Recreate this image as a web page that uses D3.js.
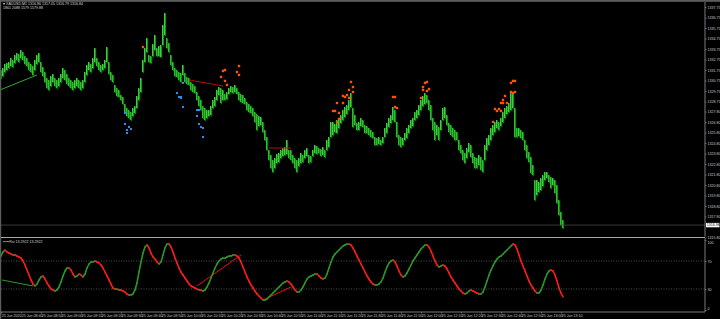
<!DOCTYPE html>
<html><head><meta charset="utf-8">
<script src="https://cdn.jsdelivr.net/npm/d3@7"></script>
<style>html,body{margin:0;padding:0;background:#000;overflow:hidden}</style>
</head><body>
<svg id="c" width="720" height="319"></svg>
<script>
// ---- data (M1 bars, high / low) ----
const high = [
1331.75,1331.94,1332.33,1332.42,1332.52,1332.90,1332.71,1333.18,1333.37,1333.28,
1333.66,1333.47,1333.09,1332.90,1332.52,1332.33,1332.13,1332.71,1333.18,1333.37,
1332.52,1332.04,1331.56,1330.99,1330.80,1331.18,1331.37,1330.99,1330.80,1330.99,
1331.37,1331.94,1331.75,1331.37,1330.99,1330.80,1330.61,1330.80,1330.99,1330.80,
1330.61,1330.80,1331.56,1332.23,1332.52,1332.33,1332.90,1333.85,1332.90,1332.52,
1332.23,1332.33,1332.71,1333.94,1332.52,1331.56,1331.28,1330.33,1330.04,1329.85,
1329.37,1329.18,1328.52,1328.13,1327.94,1327.75,1328.13,1328.32,1329.28,1330.04,
1330.99,1332.71,1333.85,1334.80,1333.18,1333.09,1334.23,1335.09,1333.85,1334.04,
1334.13,1336.04,1337.18,1334.80,1334.32,1333.18,1332.52,1331.94,1331.75,1331.56,
1331.47,1332.23,1331.47,1331.09,1330.99,1330.61,1330.42,1330.23,1329.66,1329.28,
1328.90,1328.32,1328.13,1327.94,1327.94,1328.32,1328.90,1329.18,1329.85,1330.13,
1330.04,1329.85,1329.47,1329.66,1330.04,1330.23,1330.13,1330.33,1330.04,1329.66,
1329.47,1329.37,1329.09,1328.71,1328.52,1328.32,1328.13,1327.75,1327.56,1327.37,
1327.28,1326.80,1326.04,1325.37,1324.13,1323.66,1323.18,1323.37,1323.75,1323.85,
1324.13,1324.32,1324.42,1325.09,1324.13,1324.13,1323.66,1323.37,1323.18,1323.37,
1323.85,1323.66,1324.13,1324.32,1323.66,1323.56,1324.13,1324.61,1324.52,1324.32,
1324.23,1324.42,1324.13,1325.09,1325.37,1326.80,1326.80,1326.61,1326.99,1327.18,
1327.47,1327.94,1328.23,1328.42,1328.90,1329.56,1328.13,1327.47,1326.70,1326.80,
1327.18,1326.99,1326.51,1326.42,1326.23,1326.04,1325.85,1325.37,1325.28,1325.37,
1325.09,1325.37,1326.23,1326.70,1327.18,1327.47,1328.23,1327.94,1326.80,1325.56,
1325.37,1325.28,1325.75,1326.23,1326.51,1326.99,1327.18,1327.75,1327.94,1328.42,
1328.90,1329.28,1329.56,1329.37,1328.90,1328.42,1327.18,1326.80,1326.51,1326.32,
1326.99,1328.13,1328.23,1327.47,1326.70,1326.51,1326.23,1326.04,1325.85,1325.09,
1324.61,1324.13,1323.85,1324.32,1324.80,1324.61,1323.85,1323.47,1323.37,1323.66,
1323.47,1323.18,1324.61,1325.28,1325.56,1326.23,1326.51,1326.80,1326.99,1326.80,
1327.18,1327.75,1328.13,1328.32,1328.61,1329.56,1329.56,1328.13,1326.23,1326.23,
1326.04,1325.85,1325.09,1324.61,1323.94,1323.47,1322.71,1321.28,1321.28,1321.09,
1321.47,1321.75,1322.04,1322.04,1321.75,1321.56,1321.47,1321.28,1320.80,1319.37,
1318.23,1317.47];
const low = [
1330.99,1331.18,1331.56,1331.75,1331.94,1332.13,1332.04,1332.42,1332.71,1332.52,
1332.90,1332.71,1332.33,1332.13,1331.75,1331.56,1331.28,1331.75,1332.33,1332.52,
1331.56,1331.18,1330.61,1330.04,1329.85,1330.23,1330.61,1330.23,1330.04,1330.23,
1330.61,1330.99,1330.80,1330.42,1330.23,1330.04,1329.85,1330.04,1330.23,1330.04,
1329.85,1330.04,1330.61,1331.28,1331.75,1331.56,1331.94,1332.52,1332.13,1331.75,
1331.56,1331.75,1331.94,1332.52,1331.37,1330.80,1330.61,1329.66,1329.28,1329.18,
1328.90,1328.52,1327.75,1327.37,1327.18,1326.99,1327.37,1327.66,1328.13,1328.90,
1329.66,1331.56,1332.52,1333.47,1332.52,1332.42,1333.09,1333.66,1333.09,1333.09,
1333.00,1334.13,1335.09,1333.85,1333.47,1332.23,1331.75,1331.18,1331.09,1330.80,
1330.61,1331.28,1330.61,1330.42,1330.33,1329.85,1329.66,1329.56,1328.90,1328.32,
1327.94,1327.18,1326.99,1327.18,1327.37,1327.47,1328.13,1328.32,1328.90,1329.37,
1328.61,1328.90,1328.90,1328.99,1329.47,1329.66,1329.56,1329.66,1329.47,1328.90,
1328.71,1328.61,1328.52,1327.94,1327.75,1327.66,1327.37,1326.80,1326.04,1326.42,
1326.51,1325.85,1325.09,1324.13,1323.18,1322.42,1322.04,1322.42,1322.90,1322.99,
1323.37,1323.56,1323.66,1323.75,1323.37,1323.18,1322.90,1322.42,1322.04,1322.61,
1322.90,1322.99,1323.37,1323.56,1322.90,1322.99,1323.56,1323.85,1323.75,1323.85,
1323.56,1323.66,1323.47,1324.13,1324.42,1325.37,1325.56,1325.85,1325.75,1326.23,
1326.70,1326.99,1327.28,1327.56,1327.94,1328.23,1326.32,1326.51,1326.04,1326.04,
1326.42,1326.32,1325.75,1325.75,1325.56,1325.37,1325.28,1324.61,1324.61,1324.71,
1324.61,1324.80,1325.37,1325.75,1326.32,1326.70,1326.99,1326.80,1325.37,1324.61,
1324.42,1324.61,1325.09,1325.28,1325.75,1326.23,1326.42,1326.99,1327.18,1327.47,
1327.94,1328.32,1328.52,1328.61,1327.94,1326.99,1326.04,1325.09,1325.56,1325.09,
1326.04,1326.99,1327.18,1326.51,1325.85,1325.56,1325.37,1325.09,1325.09,1324.13,
1323.85,1323.18,1322.90,1323.37,1323.94,1323.47,1322.90,1322.42,1322.42,1322.71,
1322.23,1322.04,1323.18,1324.13,1324.61,1325.09,1325.56,1325.85,1326.23,1326.04,
1326.42,1326.80,1327.18,1327.56,1327.75,1327.94,1328.13,1325.37,1325.37,1325.47,
1325.28,1325.09,1324.13,1323.37,1322.99,1321.94,1321.75,1319.37,1319.85,1320.13,
1320.33,1320.70,1321.28,1321.47,1321.09,1320.51,1320.80,1320.04,1319.09,1317.94,
1316.99,1316.71];
// ---- oscillator values (0..100) ----
const osc = [
77.1,82.9,85.7,82.9,81.4,80.0,78.6,78.6,77.1,75.7,
74.3,70.0,64.3,57.1,50.0,42.9,37.1,34.3,37.1,42.9,
47.1,48.6,44.3,38.6,34.3,30.0,28.6,27.1,28.6,32.9,
40.0,48.6,55.7,60.0,60.0,57.1,51.4,47.1,48.6,51.4,
50.0,47.1,51.4,60.0,65.7,68.6,68.6,70.0,68.6,67.1,
64.3,60.0,54.3,48.6,42.9,37.1,31.4,30.0,30.0,28.6,
28.6,27.1,25.7,22.9,21.4,21.4,22.9,28.6,38.6,54.3,
68.6,81.4,90.0,92.9,88.6,81.4,75.7,72.9,68.6,65.7,
68.6,78.6,88.6,94.3,94.3,90.0,82.9,74.3,67.1,60.0,
54.3,50.0,45.7,41.4,37.1,34.3,32.9,31.4,30.0,28.6,
28.6,27.1,28.6,32.9,38.6,45.7,52.9,60.0,65.7,70.0,
72.9,74.3,74.3,75.7,77.1,77.1,78.6,78.6,77.1,74.3,
68.6,61.4,54.3,47.1,41.4,35.7,31.4,27.1,22.9,20.0,
17.1,14.3,14.3,15.7,18.6,21.4,24.3,27.1,30.0,32.9,
35.7,38.6,40.0,41.4,40.0,37.1,32.9,28.6,25.7,25.7,
28.6,32.9,38.6,44.3,47.1,48.6,50.0,51.4,51.4,48.6,
45.7,44.3,45.7,51.4,60.0,68.6,75.7,80.0,82.9,85.7,
88.6,91.4,92.9,94.3,94.3,92.9,88.6,82.9,77.1,71.4,
65.7,60.0,54.3,48.6,44.3,40.0,37.1,35.7,35.7,37.1,
40.0,45.7,54.3,61.4,67.1,70.0,71.4,68.6,62.9,55.7,
50.0,47.1,48.6,52.9,58.6,64.3,70.0,74.3,78.6,82.9,
87.1,90.0,92.9,92.9,90.0,84.3,77.1,70.0,64.3,61.4,
62.9,64.3,62.9,58.6,52.9,47.1,42.9,38.6,34.3,30.0,
27.1,24.3,22.9,24.3,27.1,28.6,27.1,25.7,24.3,22.9,
22.9,25.7,32.9,41.4,50.0,57.1,62.9,68.6,72.9,75.7,
77.1,80.0,82.9,85.7,88.6,91.4,94.3,92.9,87.1,78.6,
70.0,62.9,55.7,48.6,41.4,35.7,31.4,27.1,24.3,24.3,
28.6,35.7,44.3,51.4,55.7,57.1,55.7,50.0,41.4,31.4,
24.3,18.6];
// signal dots [bar index, price]
const sellDots = [[71,1333.94],[110,1331.09],[111,1331.66],[112,1331.75],[112,1330.71],[113,1330.33],
 [118,1331.56],[119,1332.13],[119,1331.28],
 [175,1330.61],[174,1329.85],[176,1330.13],[171,1329.28],[172,1329.18],[173,1329.37],[174,1329.09],[176,1329.66],
 [168,1328.61],[171,1328.61],[166,1327.85],[167,1327.85],[169,1327.66],[169,1327.09],[168,1326.80],
 [196,1329.18],[197,1329.18],[197,1328.23],[198,1328.13],
 [213,1330.61],[212,1330.52],[211,1330.13],[211,1329.85],[214,1329.94],[213,1329.75],[210,1329.09],
 [256,1330.71],[255,1330.52],[257,1330.71],[255,1329.66],[256,1329.56],[252,1329.28],[251,1328.90],
 [251,1328.61],[250,1328.61],[253,1328.61],[247,1328.04],[248,1327.85],[249,1328.04],[250,1327.85],
 [246,1326.80],[257,1329.66]];
const buyDots = [[62,1327.66],[62,1326.61],[63,1326.04],[64,1326.32],[63,1325.75],[65,1326.13],
 [88,1329.56],[89,1329.18],[90,1329.09],[90,1329.18],[91,1328.23],[91,1330.52],
 [98,1327.94],[99,1327.94],[98,1327.37],[99,1326.61],[100,1326.32],[101,1326.23],[101,1325.37]];
// trend lines [i0, v0, i1, v1]
const priceLines = [
 {p:[-0.5,1329.85,18,1331.28], c:"#26b026"},
 {p:[94,1330.80,111,1330.23], c:"#b01010"},
 {p:[134,1324.32,145,1324.32], c:"#b01010"}];
const oscLines = [
 {p:[0.5,42.9,16,34.3], c:"#2a9a2a"},
 {p:[98,34.3,120,78.6], c:"#ee1010"},
 {p:[131,14.3,145,32.9], c:"#ee1010"}];
const priceTicks = [1337.75,1336.75,1335.75,1334.75,1333.75,1332.75,1331.75,1330.75,1329.75,1328.75,
 1327.80,1326.80,1325.80,1324.80,1323.80,1322.80,1321.80,1320.80,1319.80,1318.80,1317.80,1315.80];
const oscTicks = [100,70,30,0];
const oscLevels = [70,30];
const timeTickIdx = [0,10,20,30,40,50,60,70,80,90,100,110,120,130,140,150,160,170,180,190,200,210,220,230,240,250,260,270,280];
const timeLabels = ["25 Jun 2020","25 Jun 08:40","25 Jun 08:50","25 Jun 09:00","25 Jun 09:10","25 Jun 09:20",
 "25 Jun 09:30","25 Jun 09:40","25 Jun 09:50","25 Jun 10:00","25 Jun 10:10","25 Jun 10:20","25 Jun 10:30",
 "25 Jun 10:40","25 Jun 10:50","25 Jun 11:00","25 Jun 11:10","25 Jun 11:20","25 Jun 11:30","25 Jun 11:40",
 "25 Jun 11:50","25 Jun 12:00","25 Jun 12:10","25 Jun 12:20","25 Jun 12:30","25 Jun 12:40","25 Jun 12:50",
 "25 Jun 13:00","25 Jun 13:10"];
const lastPrice = 1316.98;
const header1 = "\u25BE XAUUSD,M1  1316.86 1317.05 1316.79 1316.84";
const header2 = "1861 2088 1579 1579.88";
const oscTitle = "\u25AA\u25AA\u25AA\u25AA\u25AARsi 13.2922 13.2922";

// ---- layout ----
const axisX = 705, mainTop = 2, mainBot = 236.5, oscTop = 238.5, oscBot = 312;
const FONT = "'Liberation Sans', Arial, sans-serif", FS = 3.6, TXT = "#c8c8c8";
const svg = d3.select("#c");
svg.append("rect").attr("width",720).attr("height",319).attr("fill","#000");

const x = d3.scaleLinear().domain([0,281]).range([1,563]);
const y = d3.scaleLinear().domain([1315.94,1338.42]).range([236,0]);
const yo = d3.scaleLinear().domain([0,100]).range([310,240]);

const defs = svg.append("defs");
defs.append("clipPath").attr("id","cm").append("rect").attr("x",1).attr("y",mainTop).attr("width",axisX-1).attr("height",mainBot-mainTop);
defs.append("clipPath").attr("id","co").append("rect").attr("x",1).attr("y",oscTop).attr("width",axisX-1).attr("height",oscBot-oscTop);

const gm = svg.append("g").attr("clip-path","url(#cm)");
// bars
const idx = d3.range(high.length);
gm.append("g").selectAll("line").data(idx).join("line")
  .attr("x1",i=>x(i)+0.4).attr("x2",i=>x(i)+0.4)
  .attr("y1",i=>y(high[i])+0.5).attr("y2",i=>y(low[i])+1.2)
  .attr("stroke","#0e6a0e").attr("stroke-width",1.6);
gm.append("g").selectAll("line").data(idx).join("line")
  .attr("x1",i=>x(i)-0.3).attr("x2",i=>x(i)-0.3)
  .attr("y1",i=>y(high[i])).attr("y2",i=>y(low[i]))
  .attr("stroke",(i)=> (i>0 && (high[i]+low[i]) < (high[i-1]+low[i-1])) ? "#34d634" : "#48ea48")
  .attr("stroke-width",1.1);
// trend lines
gm.append("g").selectAll("line").data(priceLines).join("line")
  .attr("x1",d=>x(d.p[0])).attr("y1",d=>y(d.p[1])).attr("x2",d=>x(d.p[2])).attr("y2",d=>y(d.p[3]))
  .attr("stroke",d=>d.c).attr("stroke-width",1);
// dots
gm.append("g").selectAll("rect").data(sellDots).join("rect")
  .attr("x",d=>x(d[0])-1.2).attr("y",d=>y(d[1])-1.2).attr("width",2.4).attr("height",2.4)
  .attr("fill","#ff5208");
gm.append("g").selectAll("rect").data(buyDots).join("rect")
  .attr("x",d=>x(d[0])-1).attr("y",d=>y(d[1])-1).attr("width",2).attr("height",2)
  .attr("fill","#2a90f0");
// bid line
svg.append("line").attr("x1",1).attr("x2",axisX).attr("y1",y(lastPrice)).attr("y2",y(lastPrice))
  .attr("stroke","#4a4a4a").attr("stroke-width",0.8);

// oscillator
const go = svg.append("g").attr("clip-path","url(#co)");
go.append("g").selectAll("line").data(oscLevels).join("line")
  .attr("x1",1).attr("x2",axisX).attr("y1",d=>yo(d)).attr("y2",d=>yo(d))
  .attr("stroke","#707070").attr("stroke-width",0.7).attr("stroke-dasharray","1,1.5");
go.append("g").selectAll("line").data(oscLines).join("line")
  .attr("x1",d=>x(d.p[0])).attr("y1",d=>yo(d.p[1])).attr("x2",d=>x(d.p[2])).attr("y2",d=>yo(d.p[3]))
  .attr("stroke",d=>d.c).attr("stroke-width",1);
go.append("g").selectAll("line").data(idx.slice(1)).join("line")
  .attr("x1",i=>x(i-1)).attr("y1",i=>yo(osc[i-1])).attr("x2",i=>x(i)).attr("y2",i=>yo(osc[i]))
  .attr("stroke",i=> osc[i] >= osc[i-1] ? "#2a962a" : "#ff1a1a")
  .attr("stroke-width",1.6).attr("stroke-linecap","round");

// frame
svg.append("rect").attr("x",0).attr("y",0).attr("width",720).attr("height",1.8).attr("fill","#5c5c5c");
svg.append("rect").attr("x",0).attr("y",0).attr("width",1.2).attr("height",319).attr("fill","#5c5c5c");
svg.append("line").attr("x1",1).attr("x2",axisX).attr("y1",237.5).attr("y2",237.5).attr("stroke","#a8a8a8").attr("stroke-width",1);
svg.append("line").attr("x1",1).attr("x2",axisX).attr("y1",oscBot).attr("y2",oscBot).attr("stroke","#9a9a9a").attr("stroke-width",0.8);

function styleAxis(g){
  g.select(".domain").attr("stroke","#9a9a9a").attr("stroke-width",0.8);
  g.selectAll(".tick line").attr("stroke","#9a9a9a").attr("stroke-width",0.6);
  g.selectAll(".tick text").attr("fill",TXT).style("font-family",FONT).style("font-size",FS+"px");
}
const ax1 = svg.append("g").attr("transform",`translate(${axisX},0)`)
  .call(d3.axisRight(y).tickValues(priceTicks).tickSize(1.5).tickPadding(1).tickFormat(d3.format(".2f")));
ax1.select(".domain").attr("d",`M0,${mainTop}V${mainBot}`);
styleAxis(ax1);
const ax2 = svg.append("g").attr("transform",`translate(${axisX},0)`)
  .call(d3.axisRight(yo).tickValues(oscTicks).tickSize(1.5).tickPadding(1).tickFormat(d3.format("d")));
ax2.select(".domain").attr("d",`M0,${oscTop}V${oscBot}`);
styleAxis(ax2);
ax2.selectAll(".tick text").filter(d=>d===100).attr("dy","0.9em");
ax2.selectAll(".tick text").filter(d=>d===0).attr("dy","-0.1em");

const ax3 = svg.append("g").attr("transform",`translate(0,${oscBot})`)
  .call(d3.axisBottom(x).tickValues(timeTickIdx).tickSize(1.5).tickPadding(1.2)
    .tickFormat((d,k)=>timeLabels[k]));
ax3.select(".domain").remove();
styleAxis(ax3);
ax3.selectAll(".tick text").attr("text-anchor","start").attr("x",0.3);

// last price box
const lp = svg.append("g").attr("transform",`translate(${axisX+1},${y(lastPrice)})`);
lp.append("rect").attr("x",0).attr("y",-2.2).attr("width",13.5).attr("height",4.4).attr("fill","#ffffff");
lp.append("text").attr("x",0.8).attr("y",0).attr("dy","0.35em").text(d3.format(".2f")(lastPrice))
  .attr("fill","#000").style("font-family",FONT).style("font-size",FS+"px");

// header texts
svg.append("text").attr("x",3).attr("y",5.2).text(header1).attr("fill","#d8d8d8").style("font-family",FONT).style("font-size",FS+"px");
svg.append("text").attr("x",3).attr("y",9.4).text(header2).attr("fill","#d8d8d8").style("font-family",FONT).style("font-size",FS+"px");
svg.append("text").attr("x",3).attr("y",242.6).text(oscTitle).attr("fill","#d8d8d8").style("font-family",FONT).style("font-size",FS+"px");
</script>
</body></html>
